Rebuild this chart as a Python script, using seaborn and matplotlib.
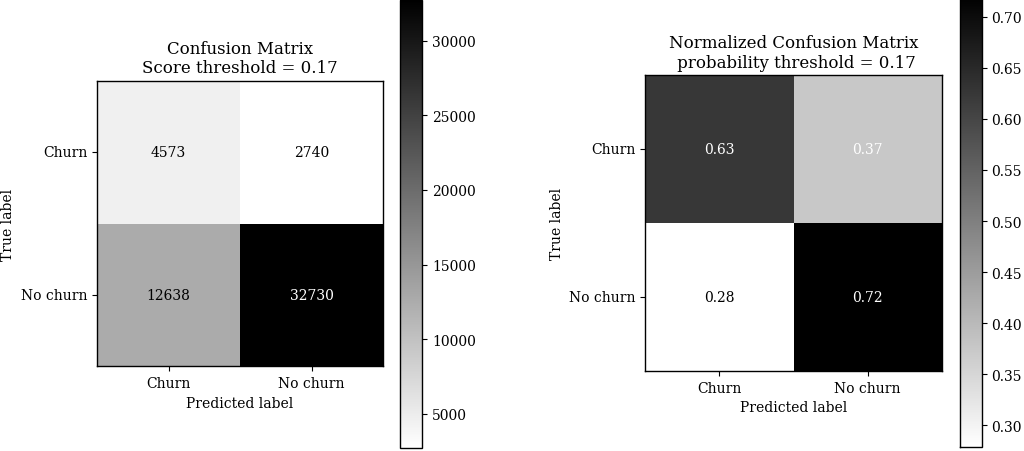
import numpy as np
import pandas as pd
import matplotlib
matplotlib.use("Agg")
import matplotlib.pyplot as plt
import seaborn as sns

plt.rcParams["font.family"] = ["DejaVu Serif"]
plt.rcParams["font.size"] = 10

# Churn model confusion matrix (rows: true label, columns: predicted label)
classes = ["Churn", "No churn"]
churn_row = [4573, 2740]
no_churn_row = [12638, 32730]
threshold = 0.17

counts = np.array([churn_row, no_churn_row], dtype=float)
normalized = counts / counts.sum(axis=1, keepdims=True)

W, H = 1024, 452
fig = plt.figure(figsize=(W / 100, H / 100), dpi=100)


def px_axes(left, top, right, bottom):
    """Axes placed by pixel edges (origin at top-left of the figure)."""
    return fig.add_axes([left / W, 1 - bottom / H, (right - left) / W, (bottom - top) / H])


def draw_matrix(ax, cax, matrix, fmt, title):
    df = pd.DataFrame(matrix, index=classes, columns=classes)
    sns.heatmap(df, ax=ax, cbar_ax=cax, cmap="gray_r", annot=False,
                square=False, linewidths=0)
    thresh = matrix.max() / 2.0
    for i in range(matrix.shape[0]):
        for j in range(matrix.shape[1]):
            ax.text(j + 0.5, i + 0.5, format(matrix[i, j], fmt),
                    ha="center", va="center", fontsize=10,
                    color="white" if matrix[i, j] > thresh else "black")
    for sp in ax.spines.values():
        sp.set_visible(True)
        sp.set_color("black")
        sp.set_linewidth(1.0)
    ax.tick_params(axis="both", length=3.5, width=0.8, direction="out",
                   labelsize=10, bottom=True, left=True)
    ax.set_yticklabels(classes, rotation=0)
    ax.set_xticklabels(classes, rotation=0)
    ax.set_ylabel("True label", fontsize=10)
    ax.set_xlabel("Predicted label", fontsize=10)
    ax.set_title(title, fontsize=12)
    cax.tick_params(length=3.5, width=0.8, labelsize=10)
    cb = ax.collections[0].colorbar
    cb.outline.set_visible(True)
    cb.outline.set_edgecolor("black")
    cb.outline.set_linewidth(1.0)


ax1 = px_axes(97, 81.7, 383, 367.3)
cax1 = px_axes(399.5, 0.9, 422.3, 448.7)
draw_matrix(ax1, cax1, counts, ".0f",
            f"Confusion Matrix\nScore threshold = {threshold}")

ax2 = px_axes(645.3, 76.3, 941.7, 372)
cax2 = px_axes(959.5, -4, 981.7, 448)
draw_matrix(ax2, cax2, normalized, ".2f",
            f"Normalized Confusion Matrix\n probability threshold = {threshold}")

fig.savefig("out.png", dpi=100)
